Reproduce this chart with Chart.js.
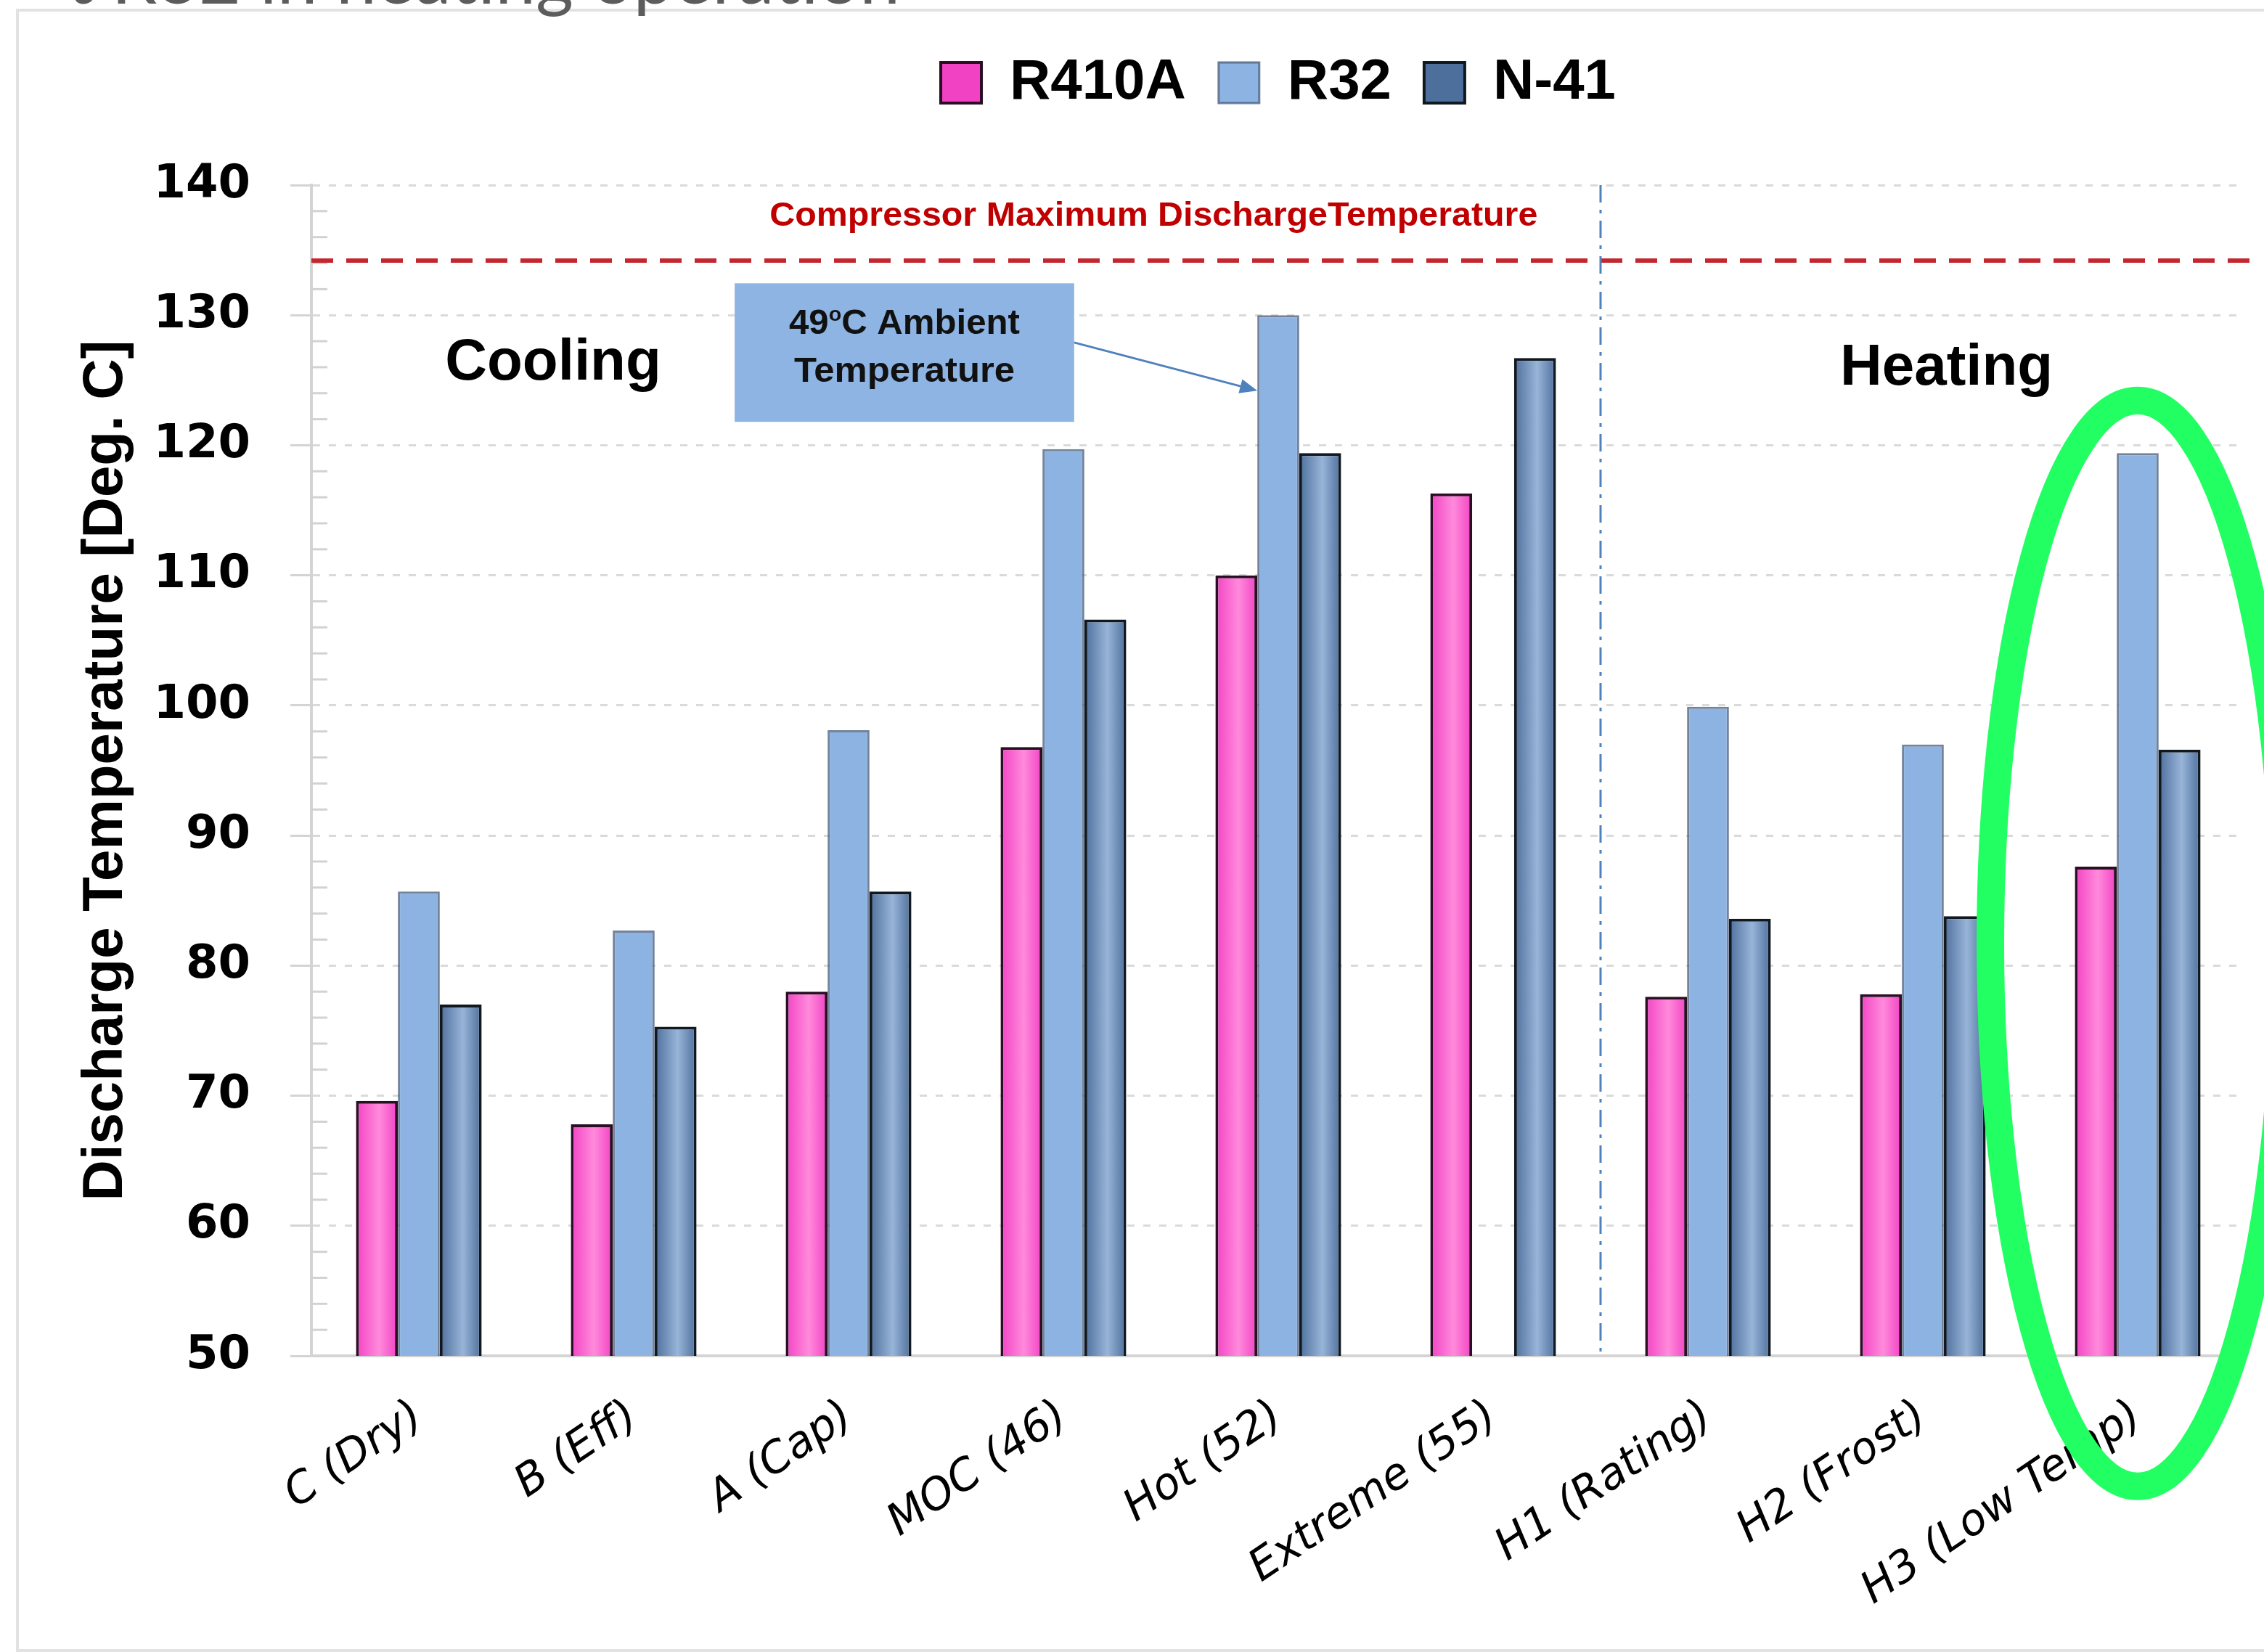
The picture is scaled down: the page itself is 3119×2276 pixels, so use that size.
<!DOCTYPE html>
<html>
<head>
<meta charset="utf-8">
<script src="https://cdn.jsdelivr.net/npm/chart.js@4.4.1/dist/chart.umd.min.js"></script>
<style>
  body { margin: 0; background: #fff; }
  #wrap { position: relative; width: 3119px; height: 2276px; overflow: hidden; background: #fff; }
  #frame {
    position: absolute; left: 22px; top: 12px; width: 3300px; height: 2264px;
    box-sizing: border-box; border: 4px solid #e2e2e2; border-right: none;
  }
  #slideTitle {
    position: absolute; right: 1879px; top: -84px; white-space: nowrap;
    font: 400 100px Lato, "Open Sans", sans-serif; line-height: 100px; color: #5c5c5c;
  }
  #ratingChart { position: absolute; left: 0; top: 0; }
</style>
</head>
<body>
<div id="wrap">
  <div id="frame"></div>
  <div id="slideTitle">t R32 in heating operation</div>
  <canvas id="ratingChart" width="3119" height="2276"></canvas>
</div>
<script>
const categories = ['C (Dry)', 'B (Eff)', 'A (Cap)', 'MOC (46)', 'Hot (52)', 'Extreme (55)', 'H1 (Rating)', 'H2 (Frost)', 'H3 (Low Temp)'];
const r410a = [69.6, 67.8, 78.0, 96.8, 110.0, 116.3, 77.6, 77.8, 87.6];
const r32 = [85.7, 82.7, 98.1, 119.7, 130.0, null, 99.9, 97.0, 119.4];
const n41 = [77.0, 75.3, 85.7, 106.6, 119.4, 126.7, 83.6, 83.8, 96.6];
const yMin = 50, yMax = 140, yStep = 10;
const maxDischarge = 134.2; // compressor limit line

const CAT_PCT = 0.585;
const labelFont = '"Liberation Sans", Arial, sans-serif';

// horizontal shading across each bar, like the old Excel bevel
function shaded(edge, mid, flat) {
    return function(c) {
        if (c.type !== 'data' || !c.chart.chartArea) return flat;
        const xs = c.chart.scales.x;
        const barW = xs.width / categories.length * CAT_PCT / 3;
        const x0 = xs.getPixelForValue(c.dataIndex) + (c.datasetIndex - 1.5) * barW;
        const g = c.chart.ctx.createLinearGradient(x0, 0, x0 + barW, 0);
        g.addColorStop(0, edge);
        g.addColorStop(0.55, mid);
        g.addColorStop(1, edge);
        return g;
    };
}

function fitText(ctx, text, x, y, width, font, color) {
    ctx.save();
    ctx.font = font;
    ctx.fillStyle = color;
    const w = ctx.measureText(text).width;
    ctx.translate(x, y);
    if (width) ctx.scale(width / w, 1);
    ctx.textAlign = 'center';
    ctx.textBaseline = 'middle';
    ctx.fillText(text, 0, 0);
    ctx.restore();
}

const annotations = {
    id: 'annotations',
    beforeDatasetsDraw(chart) {
        // minor ticks on the value axis
        const {ctx, chartArea: a, scales: {y}} = chart;
        ctx.save();
        ctx.strokeStyle = '#d2d2d2';
        ctx.lineWidth = 3;
        for (let v = yMin + 2; v < yMax; v += 2) {
            if (v % yStep === 0) continue;
            const py = y.getPixelForValue(v);
            ctx.beginPath();
            ctx.moveTo(a.left, py);
            ctx.lineTo(a.left + 22, py);
            ctx.stroke();
        }
        ctx.restore();
    },
    afterDatasetsDraw(chart) {
        const {ctx, chartArea: a, scales: {x, y}} = chart;
        const catW = (a.right - a.left) / categories.length;
        const at = u => a.left + u * catW;

        // compressor limit
        ctx.save();
        ctx.strokeStyle = '#c3262e';
        ctx.lineWidth = 6;
        ctx.setLineDash([30, 18]);
        ctx.beginPath();
        ctx.moveTo(a.left, y.getPixelForValue(maxDischarge));
        ctx.lineTo(a.right + 10, y.getPixelForValue(maxDischarge));
        ctx.stroke();
        ctx.restore();
        fitText(ctx, 'Compressor Maximum DischargeTemperature', at(3.92), y.getPixelForValue(137.6), 1058,
            'bold 46px ' + labelFont, '#c00000');

        // cooling / heating divider
        ctx.save();
        ctx.strokeStyle = '#4f81bd';
        ctx.lineWidth = 3;
        ctx.setLineDash([24, 10, 5, 10]);
        ctx.beginPath();
        ctx.moveTo(at(6), a.top);
        ctx.lineTo(at(6), a.bottom);
        ctx.stroke();
        ctx.restore();

        fitText(ctx, 'Cooling', at(1.125), y.getPixelForValue(126.25), 0, 'bold 80px ' + labelFont, '#000');
        fitText(ctx, 'Heating', at(7.61), y.getPixelForValue(125.9), 0, 'bold 80px ' + labelFont, '#000');

        // callout box
        const bx0 = at(1.97), bx1 = at(3.55);
        const by0 = y.getPixelForValue(132.45), by1 = y.getPixelForValue(121.8);
        ctx.save();
        ctx.fillStyle = '#8db4e2';
        ctx.fillRect(bx0, by0, bx1 - bx0, by1 - by0);
        ctx.restore();

        const cx = (bx0 + bx1) / 2;
        const l1y = y.getPixelForValue(129.3);
        ctx.save();
        const big = 'bold 48px ' + labelFont, small = 'bold 28px ' + labelFont;
        ctx.font = big;
        const w49 = ctx.measureText('49').width, wRest = ctx.measureText('C Ambient').width;
        ctx.font = small;
        const wo = ctx.measureText('o').width;
        const k = 318 / (w49 + wo + wRest);
        ctx.translate(cx - 159, l1y);
        ctx.scale(k, 1);
        ctx.fillStyle = '#111';
        ctx.textBaseline = 'middle';
        ctx.font = big;
        ctx.fillText('49', 0, 0);
        ctx.font = small;
        ctx.fillText('o', w49, -12);
        ctx.font = big;
        ctx.fillText('C Ambient', w49 + wo, 0);
        ctx.restore();
        fitText(ctx, 'Temperature', cx, y.getPixelForValue(125.6), 304, big, '#111');

        // arrow to the hot-day R32 bar
        const barW = catW * CAT_PCT / 3;
        const sx = bx1, sy = y.getPixelForValue(127.9);
        const ex = x.getPixelForValue(4) - barW / 2, ey = y.getPixelForValue(124.2);
        const ang = Math.atan2(ey - sy, ex - sx);
        ctx.save();
        ctx.strokeStyle = '#4f81bd';
        ctx.fillStyle = '#4f81bd';
        ctx.lineWidth = 3;
        ctx.beginPath();
        ctx.moveTo(sx, sy);
        ctx.lineTo(ex - 18 * Math.cos(ang), ey - 18 * Math.sin(ang));
        ctx.stroke();
        ctx.translate(ex, ey);
        ctx.rotate(ang);
        ctx.beginPath();
        ctx.moveTo(0, 0);
        ctx.lineTo(-24, -10);
        ctx.lineTo(-24, 10);
        ctx.closePath();
        ctx.fill();
        ctx.restore();
    },
    afterDraw(chart) {
        // green highlight round H3
        const {ctx, scales: {x, y}} = chart;
        ctx.save();
        ctx.strokeStyle = '#22ff62';
        ctx.lineWidth = 38;
        ctx.beginPath();
        ctx.ellipse(x.getPixelForValue(8), y.getPixelForValue(81.7), 203, 748, 0, 0, Math.PI * 2);
        ctx.stroke();
        ctx.restore();
    }
};

const ctx = document.getElementById('ratingChart').getContext('2d');

const chart = new Chart(ctx, {
    type: 'bar',
    data: {
        labels: categories,
        datasets: [{
            label: 'R410A',
            data: r410a,
            backgroundColor: shaded('#f242c4', '#ff8adb', '#ff5fd0'),
            borderColor: '#2a0f24',
            borderWidth: 4,
            borderSkipped: false
        }, {
            label: 'R32',
            data: r32,
            backgroundColor: '#8db3e2',
            borderColor: 'rgba(70, 90, 120, 0.75)',
            borderWidth: 3,
            borderSkipped: false
        }, {
            label: 'N-41',
            data: n41,
            backgroundColor: shaded('#4d6f9c', '#98b4d8', '#6f8fb9'),
            borderColor: '#101820',
            borderWidth: 4,
            borderSkipped: false
        }]
    },
    options: {
        responsive: false,
        animation: false,
        datasets: {
            bar: { categoryPercentage: CAT_PCT, barPercentage: 1 }
        },
        layout: {
            padding: { top: 30, right: 26, bottom: 0, left: 0 }
        },
        plugins: {
            tooltip: { enabled: false },
            legend: {
                position: 'top',
                fullSize: false,
                labels: {
                    boxWidth: 56,
                    boxHeight: 56,
                    padding: 45,
                    color: '#000',
                    font: { family: labelFont, size: 78, weight: 'bold' }
                }
            }
        },
        scales: {
            x: {
                grid: { display: false, drawTicks: false },
                border: { color: '#d4d4d4', width: 4 },
                ticks: {
                    color: '#000',
                    font: { family: '"DejaVu Sans", Verdana, sans-serif', size: 60, style: 'italic' },
                    minRotation: 34,
                    maxRotation: 34,
                    autoSkip: false,
                    padding: 48
                },
                afterFit(s) { s.height = 408; }
            },
            spacer: {
                type: 'category',
                position: 'top',
                grid: { display: false, drawTicks: false },
                border: { display: false },
                ticks: { display: false },
                afterFit(s) { s.height = 92; }
            },
            y: {
                min: yMin,
                max: yMax,
                ticks: {
                    stepSize: yStep,
                    color: '#000',
                    padding: 55,
                    font: { family: '"DejaVu Sans", Verdana, sans-serif', size: 64, weight: 'bold' }
                },
                grid: { color: '#dadada', lineWidth: 3, tickLength: 29, tickColor: '#d4d4d4' },
                border: { color: '#d4d4d4', width: 4, dash: [10, 12] },
                title: {
                    display: true,
                    text: 'Discharge Temperature [Deg. C]',
                    color: '#000',
                    padding: { top: 100, bottom: 0 },
                    font: { family: labelFont, size: 78, weight: 'bold' }
                },
                afterFit(s) { s.width = 429; }
            }
        }
    },
    plugins: [annotations]
});
</script>
</body>
</html>
